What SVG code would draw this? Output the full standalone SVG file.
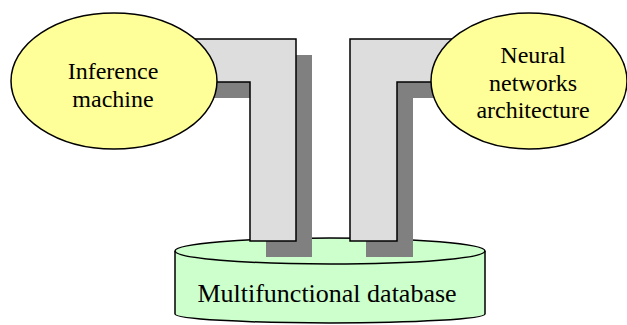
<svg xmlns="http://www.w3.org/2000/svg" width="627" height="325" viewBox="0 0 627 325">
<style>
.shadow{fill:#808080;stroke:none}
.bar{fill:#DDDDDD;stroke:#000;stroke-width:1.5}
.oval{fill:#FFFF99;stroke:#000;stroke-width:1.5}
.db{fill:#CCFFCC;stroke:#000;stroke-width:1.5}
text{fill:#000;text-anchor:middle;font-family:'Liberation Serif','DejaVu Serif',serif;font-size:24px}
</style>
<rect width="627" height="325" fill="#fff"/>
<g id="database">
<path class="db" d="M175,251 V314 A155,9 0 0 0 485,314 V251 A155,13 0 0 0 175,251 Z"/>
<path d="M175,251 A155,13 0 0 0 485,251" fill="none" stroke="#000" stroke-width="1.5"/>
<text style="font-size:26px" x="327" y="302">Multifunctional database</text>
</g>
<g id="connectors">
<polygon class="shadow" points="196,55 312,55 312,257 266,257 266,98 196,98"/>
<polygon class="bar" points="180,39 296,39 296,241 250,241 250,82 180,82"/>
<polygon class="shadow" points="366,55 486,55 486,98 413,98 413,257 366,257"/>
<polygon class="bar" points="350,39 470,39 470,82 397,82 397,241 350,241"/>
</g>
<g id="inference">
<ellipse class="oval" cx="114" cy="81" rx="103" ry="68"/>
<text x="113" y="79">Inference</text>
<text x="113" y="107">machine</text>
</g>
<g id="neural">
<ellipse class="oval" cx="529" cy="81" rx="98" ry="68"/>
<text x="533" y="63">Neural</text>
<text x="533" y="91">networks</text>
<text x="533" y="118">architecture</text>
</g>
</svg>
